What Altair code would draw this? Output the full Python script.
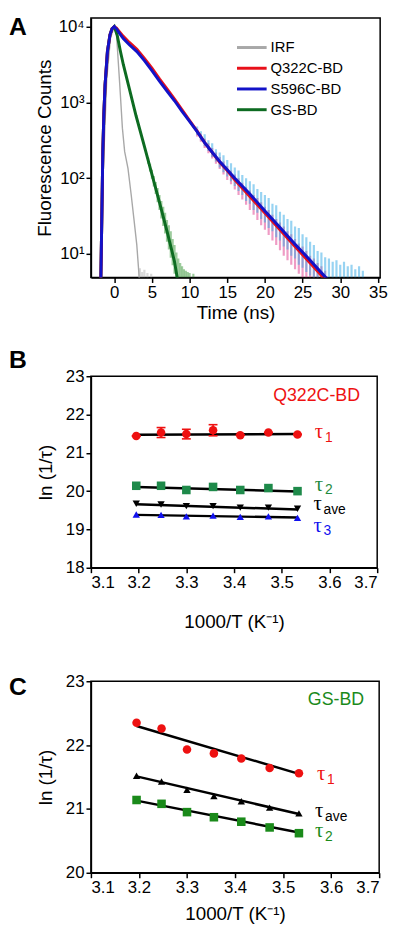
import altair as alt
import pandas as pd

FONT = "Liberation Sans"
SERIF = "Liberation Serif"

# ================= Panel A : fluorescence decays =================
series_names = ["IRF", "Q322C-BD", "S596C-BD", "GS-BD"]
series_colors = ["#a8a8a8", "#e8101a", "#1212c8", "#0d6b21"]

irf_t = [-1.8, -1.5, -1.0, -0.5, 0.0, 0.3, 0.73, 1.08, 1.38, 1.82, 2.25, 2.6, 2.99, 3.25, 3.35]
irf_c = [4.9, 100, 2000, 7080, 10000, 7760, 1700, 457, 224, 135, 60, 29.5, 13.2, 5.9, 4.0]

q322_t = [-1.85, -1.78, -1.65, -1.52, -1.38, -1.22, -0.91, -0.57, -0.3,
          0, 0.3, 0.7, 1.2, 2, 3, 4, 5, 6, 7, 8, 9, 10, 11, 12, 13, 14, 15, 16, 18, 20, 22, 24, 26, 28, 28.3]
q322_c = [2.5, 4.9, 31.6, 224, 708, 1700, 4680, 7760, 9330,
          10000, 9550, 8510, 7410, 6170, 5010, 3800, 2820, 2040, 1510, 1100, 794, 575, 417, 295, 219, 162,
          126, 95.5, 57.5, 34.7, 20.9, 12.6, 7.6, 4.6, 4.0]

s596_t = [-1.85, -1.78, -1.65, -1.52, -1.38, -1.22, -0.91, -0.57, -0.3,
          0, 0.3, 0.7, 1.2, 2, 3, 4, 5, 6, 7, 8, 9, 10, 11, 12, 13, 14, 15, 16, 18, 20, 22, 24, 26, 28, 28.5]
s596_c = [2.5, 4.9, 31.6, 224, 708, 1700, 4680, 7760, 9330,
          10000, 9330, 8130, 6920, 5750, 4680, 3550, 2630, 1910, 1410, 1050, 760, 560, 410, 295, 220, 166,
          129, 100, 62, 37, 22.4, 13.5, 8.3, 5.0, 4.5]

gs_t = [-1.85, -1.78, -1.65, -1.52, -1.38, -1.22, -0.91, -0.57, -0.3,
        0, 0.4, 0.8, 1.2, 1.9, 2.9, 4, 5, 6, 7, 7.6, 8, 8.4]
gs_c = [2.5, 4.9, 31.6, 224, 708, 1700, 4680, 7760, 9330,
        10000, 7590, 4790, 3160, 1660, 661, 263, 112, 47.9, 20, 11.5, 7.9, 4.6]

# raw (noisy) data spread: time, lower and upper counts
cyan_t = [11, 11.5, 12, 12.5, 13, 13.5, 14, 14.5, 15, 15.5, 16, 16.5, 17, 17.5, 18, 18.5, 19, 19.5, 20, 20.5,
          21, 21.5, 22, 22.5, 23, 23.5, 24, 24.5, 25, 25.5, 26, 26.5, 27, 27.5, 28, 28.5, 29, 29.5, 30, 30.5,
          31, 31.5, 32, 32.5, 33]
cyan_lo = [372, 316, 263, 229, 191, 166, 138, 120, 105, 91, 79, 68, 60, 50, 46, 38, 35, 29, 26, 22,
           20, 16.6, 15.1, 12.6, 11.5, 9.5, 8.7, 7.2, 6.6, 5.8, 5.2, 4.9, 4.9, 4.9, 4.9, 4.9, 4.9, 4.9, 4.9, 4.9,
           4.9, 4.9, 4.9, 4.9, 4.9]
cyan_hi = [479, 417, 380, 316, 288, 240, 219, 200, 174, 158, 138, 126, 110, 100, 91, 83, 72, 66, 60, 55,
           46, 44, 36, 33, 29, 27.5, 23, 22, 18.2, 16.6, 14.5, 13.2, 11, 10.5, 9.1, 8.7, 7.9, 8.3, 7.2, 7.9,
           6.9, 7.2, 6.3, 6.9, 6.0]

mag_t = [11, 11.5, 12, 12.5, 13, 13.5, 14, 14.5, 15, 15.5, 16, 16.5, 17, 17.5, 18, 18.5, 19, 19.5, 20, 20.5,
         21, 21.5, 22, 22.5, 23, 23.5, 24, 24.5, 25, 25.5, 26, 26.5, 27, 27.5, 28]
mag_lo = [355, 302, 251, 214, 182, 155, 132, 112, 95, 83, 71, 60, 52.5, 44.7, 38, 33, 28.2, 24, 20.9, 17.8,
          15.1, 13.2, 11.2, 9.5, 8.3, 7.2, 6.3, 5.5, 4.9, 4.9, 4.9, 4.9, 4.9, 4.9, 4.9]
mag_hi = [437, 380, 331, 288, 251, 219, 191, 166, 145, 126, 112, 100, 87, 76, 69, 60, 55, 48, 42, 38,
          33, 29, 26, 23, 20, 18.2, 15.8, 13.8, 12.6, 11, 9.5, 8.7, 7.6, 6.9, 6.0]

gsn_t = [4.5, 4.75, 5.0, 5.25, 5.5, 5.75, 6.0, 6.25, 6.5, 6.75, 7.0, 7.25, 7.5, 7.75, 8.0, 8.25, 8.5, 8.75,
         9.0, 9.25, 9.5, 9.75, 10.0, 10.5]
gsn_lo = [155, 123, 98, 78, 62, 48, 38, 29.5, 23.4, 18.6, 14.5, 11.5, 8.9, 7.1, 5.5, 4.9, 4.9, 4.9,
          4.9, 4.9, 4.9, 4.9, 4.9, 4.9]
gsn_hi = [186, 155, 129, 107, 89, 74, 60, 50, 42, 35, 28, 24, 20, 15.8, 13.2, 10.5, 8.7, 7.6,
          6.9, 6.3, 6.0, 5.8, 5.6, 5.5]

irfn_t = [3.4, 3.7, 4.0, 4.4, 4.9]
irfn_lo = [4.9, 4.9, 4.9, 4.9, 4.9]
irfn_hi = [6.5, 5.8, 6.2, 5.6, 5.5]

x_ticks_A = [0, 5, 10, 15, 20, 25, 30, 35]
y_ticks_A = [10, 100, 1000, 10000]
y_tick_labels_A = ["10¹", "10²", "10³", "10⁴"]

# ================= Panel B : Q322C-BD =================
inv_T = [3.195, 3.247, 3.300, 3.356, 3.413, 3.472, 3.533]
B_tau1 = [21.44, 21.53, 21.49, 21.59, 21.46, 21.53, 21.48]
B_tau1_err = [0.0, 0.13, 0.125, 0.145, 0.0, 0.0, 0.0]
B_tau2 = [20.14, 20.14, 20.03, 20.11, 20.03, 20.08, 20.00]
B_tauave = [19.67, 19.65, 19.61, 19.61, 19.57, 19.57, 19.54]
B_tau3 = [19.39, 19.38, 19.34, 19.36, 19.33, 19.34, 19.30]
B_fit_x = [3.195, 3.533]
B_fit_tau1 = [21.47, 21.49]
B_fit_tau2 = [20.11, 19.99]
B_fit_tauave = [19.66, 19.52]
B_fit_tau3 = [19.38, 19.31]
B_lab_x = [3.578, 3.578, 3.575, 3.575]
B_lab_y = [21.54, 20.17, 19.66, 19.10]
B_lab_sub = ["1", "2", "ave", "3"]
B_lab_col = ["#ee1111", "#1e8a3e", "#000000", "#1111ee"]

# ================= Panel C : GS-BD =================
C_tau1 = [22.35, 22.26, 21.93, 21.87, 21.79, 21.64, 21.56]
C_tauave = [21.52, 21.43, 21.30, 21.20, 21.12, 21.02, 20.93]
C_tau2 = [21.14, 21.08, 20.95, 20.87, 20.80, 20.71, 20.62]
C_fit_x = [3.195, 3.533]
C_fit_tau1 = [22.30, 21.55]
C_fit_tauave = [21.51, 20.92]
C_fit_tau2 = [21.13, 20.63]
C_lab_x = [3.579, 3.575, 3.575]
C_lab_y = [21.54, 20.96, 20.65]
C_lab_sub = ["1", "ave", "2"]
C_lab_col = ["#ee1111", "#000000", "#1a8a1a"]

x_ticks_BC = [3.1, 3.2, 3.3, 3.4, 3.5, 3.6, 3.7]

# ---------------------------------------------------------------
label_expr = "'" + y_tick_labels_A[-1] + "'"
for v, lab in reversed(list(zip(y_ticks_A[:-1], y_tick_labels_A[:-1]))):
    label_expr = f"datum.value == {v} ? '{lab}' : " + label_expr

xA = alt.X("t:Q", scale=alt.Scale(domain=[-3.1, 35.3], nice=False, zero=False),
           axis=alt.Axis(values=x_ticks_A, title="Time (ns)", titlePadding=4))
yA = alt.Y("counts:Q", scale=alt.Scale(type="log", domain=[4.9, 13000], nice=False),
           axis=alt.Axis(values=y_ticks_A, labelExpr=label_expr, title="Fluorescence Counts",
                         titlePadding=4, labelOverlap=False))

colorA = alt.Color("series:N",
                   scale=alt.Scale(domain=series_names, range=series_colors),
                   legend=alt.Legend(title=None, orient="none", legendX=154, legendY=21,
                                     symbolType="M-2,0H2", symbolSize=225, symbolStrokeWidth=3,
                                     labelFont=FONT, labelFontSize=15, labelColor="black",
                                     labelOffset=10, rowPadding=4, padding=0))


def fit_df(t, c, name):
    return pd.DataFrame({"t": t, "counts": c, "series": name})


def noise_df(t, lo, hi):
    return pd.DataFrame({"t": t, "counts": lo, "counts2": hi})


def noise_layer(df, color):
    return alt.Chart(df).mark_rule(clip=True, strokeWidth=2.2, opacity=0.5, color=color).encode(
        x=xA, y=yA, y2="counts2:Q")


def fit_layer(df, width):
    return alt.Chart(df).mark_line(clip=True, strokeWidth=width).encode(x=xA, y=yA, color=colorA)


letterA = alt.Chart(pd.DataFrame({"lab": ["A"]})).mark_text(
    font=FONT, fontSize=25, fontWeight="bold", align="left", baseline="top", color="black"
).encode(x=alt.value(-83), y=alt.value(-3), text="lab:N")

chartA = alt.layer(
    noise_layer(noise_df(irfn_t, irfn_lo, irfn_hi), "#b5b5b5"),
    noise_layer(noise_df(gsn_t, gsn_lo, gsn_hi), "#3c9a3c"),
    noise_layer(noise_df(mag_t, mag_lo, mag_hi), "#e0388c"),
    noise_layer(noise_df(cyan_t, cyan_lo, cyan_hi), "#2fa8e6"),
    fit_layer(fit_df(irf_t, irf_c, "IRF"), 1.4),
    fit_layer(fit_df(gs_t, gs_c, "GS-BD"), 3),
    fit_layer(fit_df(q322_t, q322_c, "Q322C-BD"), 3),
    fit_layer(fit_df(s596_t, s596_c, "S596C-BD"), 3),
    letterA,
).properties(width=293, height=263)


# ---------------------------------------------------------------
def panel(y_domain, y_ticks, series, fits, labels, name_text, name_xy, name_color, letter, letter_y,
          err=None, width=290, height=194, x_title_pad=14, spacer_y=None):
    xs = alt.X("x:Q", scale=alt.Scale(domain=[3.1, 3.7], nice=False, zero=False),
               axis=alt.Axis(values=x_ticks_BC, format=".1f", title="1000/T (K⁻¹)",
                             titlePadding=x_title_pad, labelOverlap=False))
    ys = alt.Y("y:Q", scale=alt.Scale(domain=y_domain, nice=False, zero=False),
               axis=alt.Axis(values=y_ticks, format="d", title="ln (1/τ)", titlePadding=10,
                             labelOverlap=False))
    layers = []
    # fit lines
    for fx, fy in fits:
        layers.append(alt.Chart(pd.DataFrame({"x": fx, "y": fy})).mark_line(
            color="black", strokeWidth=2.5).encode(x=xs, y=ys))
    # error bars
    if err is not None:
        vals, errs, col = err
        lows = [v - e for v, e in zip(vals, errs)]
        highs = [v + e for v, e in zip(vals, errs)]
        edf = pd.DataFrame({"x": inv_T, "y": lows, "y2": highs})
        layers.append(alt.Chart(edf).mark_rule(color=col, strokeWidth=1.6).encode(x=xs, y=ys, y2="y2:Q"))
        cdf = pd.DataFrame({"x": inv_T + inv_T, "y": lows + highs})
        layers.append(alt.Chart(cdf).mark_rule(color=col, strokeWidth=1.6, xOffset=-4.5, x2Offset=4.5)
                      .encode(x=xs, x2="x:Q", y=ys))
    # points
    for vals, shape, col, size in series:
        layers.append(alt.Chart(pd.DataFrame({"x": inv_T, "y": vals})).mark_point(
            filled=True, shape=shape, size=size, color=col, opacity=1).encode(x=xs, y=ys))
    # tau labels
    lx, ly, lsub, lcol = labels
    ldf = pd.DataFrame({"x": lx, "y": ly, "tau": ["τ"] * len(lx), "sub": lsub, "col": lcol})
    layers.append(alt.Chart(ldf).mark_text(font=SERIF, fontSize=21, align="center", baseline="middle")
                  .encode(x=xs, y=ys, text="tau:N", color=alt.Color("col:N", scale=None)))
    layers.append(alt.Chart(ldf).mark_text(font=FONT, fontSize=14, align="left", baseline="middle",
                                           dx=6, dy=6)
                  .encode(x=xs, y=ys, text="sub:N", color=alt.Color("col:N", scale=None)))
    # sample name
    layers.append(alt.Chart(pd.DataFrame({"x": [name_xy[0]], "y": [name_xy[1]], "t": [name_text]}))
                  .mark_text(font=FONT, fontSize=18, align="center", baseline="middle", color=name_color)
                  .encode(x=xs, y=ys, text="t:N"))
    # panel letter
    layers.append(alt.Chart(pd.DataFrame({"lab": [letter]})).mark_text(
        font=FONT, fontSize=25, fontWeight="bold", align="left", baseline="top", color="black")
        .encode(x=alt.value(-83), y=alt.value(letter_y), text="lab:N"))
    if spacer_y is not None:
        layers.append(alt.Chart(pd.DataFrame({"lab": [letter]})).mark_text(
            font=FONT, fontSize=25, fontWeight="bold", align="left", baseline="top", opacity=0)
            .encode(x=alt.value(-83), y=alt.value(spacer_y), text="lab:N"))
    return alt.layer(*layers).properties(width=width, height=height)


chartB = panel(
    [18, 23], [18, 19, 20, 21, 22, 23],
    [(B_tau1, "circle", "#ee1111", 75),
     (B_tau2, "square", "#1e8a4a", 75),
     (B_tauave, "triangle-down", "#000000", 55),
     (B_tau3, "triangle-up", "#1111ee", 55)],
    [(B_fit_x, B_fit_tau1), (B_fit_x, B_fit_tau2), (B_fit_x, B_fit_tauave), (B_fit_x, B_fit_tau3)],
    (B_lab_x, B_lab_y, B_lab_sub, B_lab_col),
    "Q322C-BD", (3.573, 22.49), "#ee1111", "B", -28,
    err=(B_tau1, B_tau1_err, "#ee1111"), width=290, height=194, x_title_pad=23)

chartC = panel(
    [20, 23], [20, 21, 22, 23],
    [(C_tau1, "circle", "#ee1111", 75),
     (C_tauave, "triangle-up", "#000000", 55),
     (C_tau2, "square", "#1a8a1a", 75)],
    [(C_fit_x, C_fit_tau1), (C_fit_x, C_fit_tauave), (C_fit_x, C_fit_tau2)],
    (C_lab_x, C_lab_y, C_lab_sub, C_lab_col),
    "GS-BD", (3.61, 22.70), "#1a8a1a", "C", -6,
    width=292, height=194, x_title_pad=9, spacer_y=-24)

chart = alt.vconcat(chartA, chartB, chartC, spacing=24).properties(
    padding={"left": 0, "top": 0, "right": 4, "bottom": 4}
).configure_axis(
    labelFont=FONT, titleFont=FONT, labelFontSize=17, titleFontSize=19, titleFontWeight="normal",
    labelColor="black", titleColor="black", domainColor="black", tickColor="black",
    domainWidth=1.5, tickWidth=1.5, tickSize=5, grid=False, labelPadding=2
).configure_view(stroke="black", strokeWidth=1.5)

chart.save("out.html", embed_options={"renderer": "svg", "actions": False})
